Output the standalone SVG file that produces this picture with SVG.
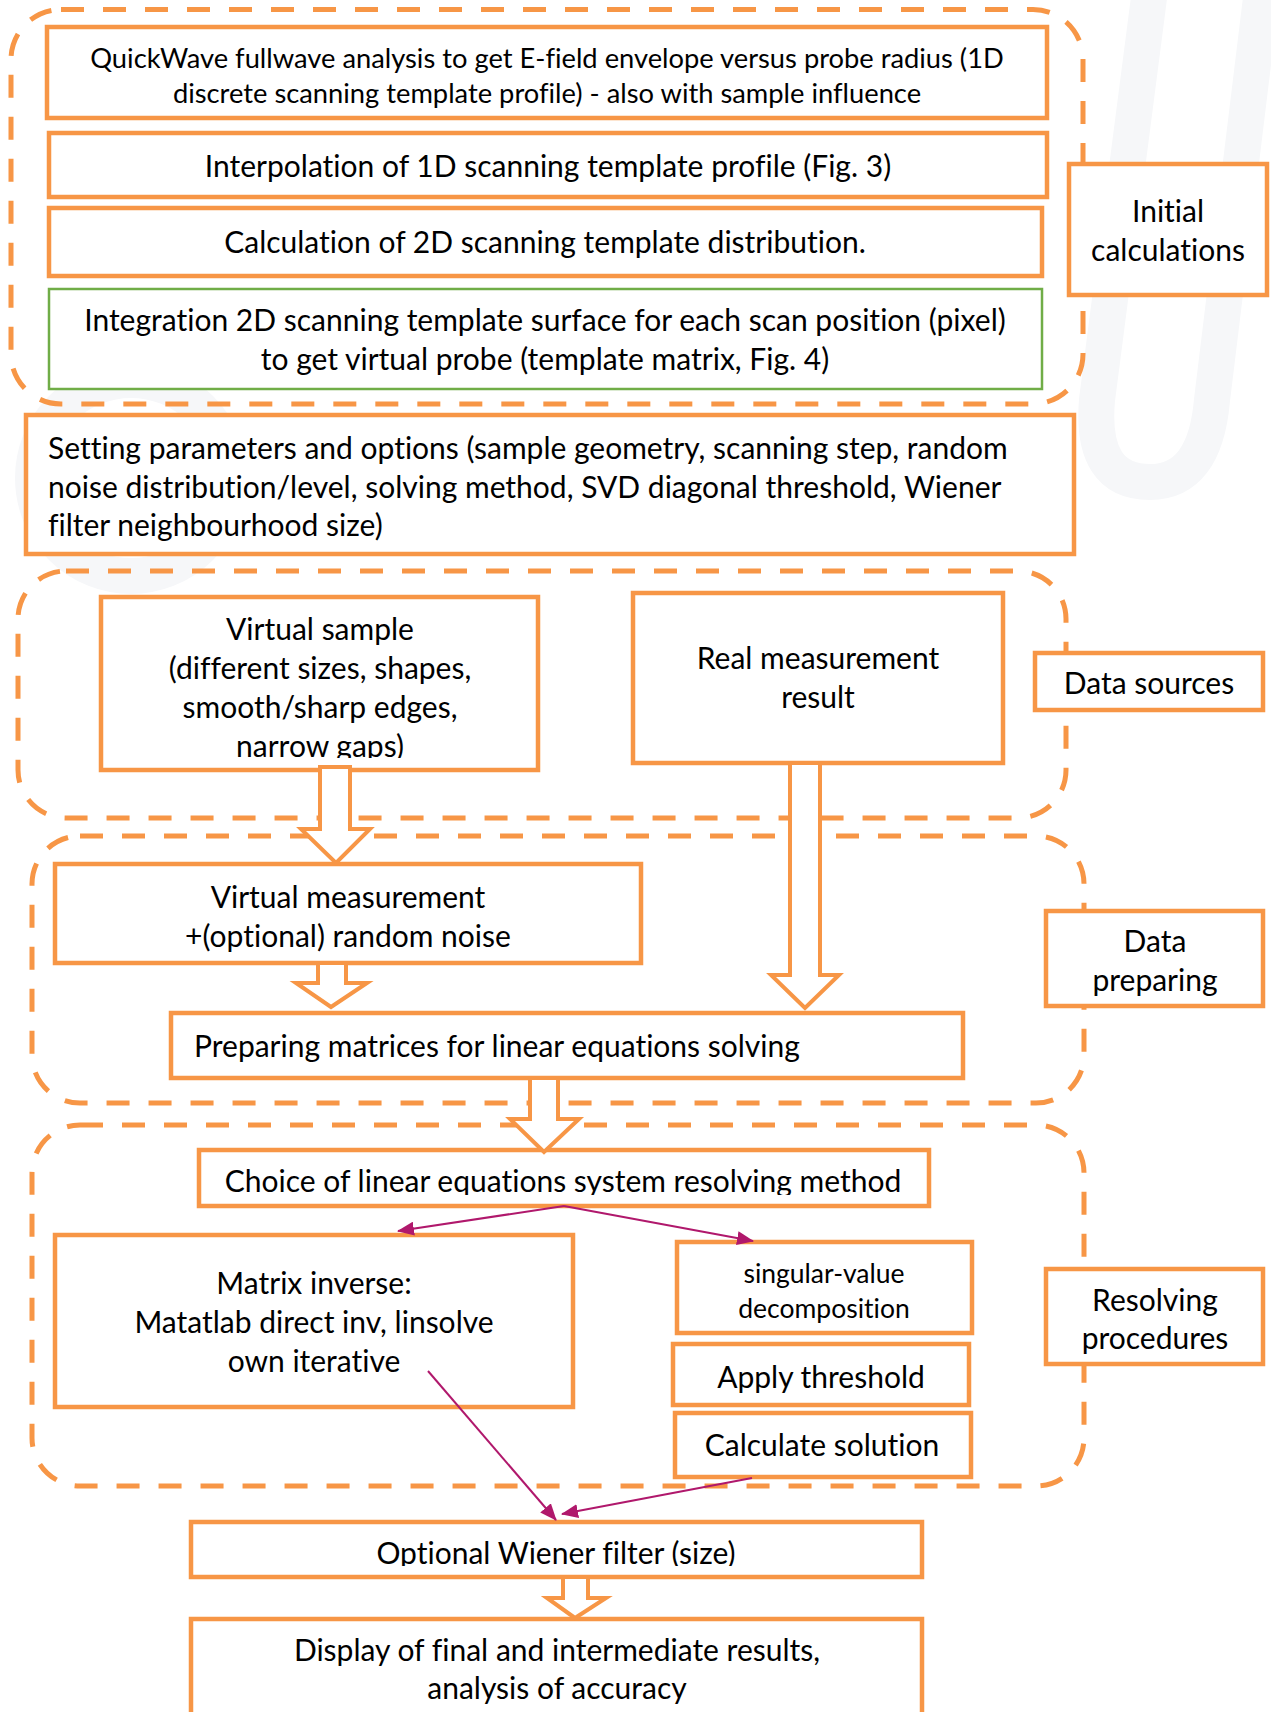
<svg xmlns="http://www.w3.org/2000/svg" width="1271" height="1712" viewBox="0 0 1271 1712">
<style>
.grp{fill:none;stroke:#F79646;stroke-width:5;stroke-dasharray:23 19}
.box{fill:#FFFFFF;stroke:#F79646;stroke-width:4.5}
.gbox{fill:#FFFFFF;stroke:#70AD47;stroke-width:2.5}
.blk{fill:#FFFFFF;stroke:#F79646;stroke-width:4;stroke-linejoin:miter}
.pl{fill:none;stroke:#B0186C;stroke-width:2}
text{font-family:Lato,"Noto Sans","Liberation Sans",sans-serif;font-size:30px;fill:#000000;font-variant-ligatures:none}
.c{text-anchor:middle}
.s{font-size:27.3px}
.xs{font-size:26.5px}
.wm{fill:none;stroke:#F6F7F9;stroke-width:36}
</style>
<defs>
<marker id="ah" markerUnits="userSpaceOnUse" markerWidth="18" markerHeight="14" refX="16" refY="7" orient="auto">
<path d="M0,0 L17,7 L0,14 Z" fill="#B0186C"/>
</marker>
<clipPath id="clipVS"><rect x="100" y="597" width="440" height="161"/></clipPath>
<clipPath id="clipCH"><rect x="199" y="1150" width="730" height="45"/></clipPath>
<clipPath id="clipWF"><rect x="191" y="1522" width="731" height="44"/></clipPath>
</defs>
<rect x="0" y="0" width="1271" height="1712" fill="#FFFFFF"/>
<g id="watermark">
<path class="wm" d="M1150,-10 L1097,400 Q1090,482 1150,482 Q1205,482 1212,400 L1262,-10"/>
<circle class="wm" cx="131" cy="478" r="98"/>
</g>
<g id="groups">
<rect id="grp-initial" class="grp" x="11" y="9.5" width="1072" height="394.5" rx="50"/>
<rect id="grp-sources" class="grp" x="18" y="571" width="1048" height="247" rx="48"/>
<rect id="grp-preparing" class="grp" x="32" y="836" width="1052" height="267" rx="48"/>
<rect id="grp-resolving" class="grp" x="32" y="1125" width="1052" height="361" rx="48"/>
</g>
<g id="n-quickwave"><rect class="box" x="47" y="27" width="1000" height="91"/>
<text class="c s" x="547" y="68">QuickWave fullwave analysis to get E-field envelope versus probe radius (1D</text>
<text class="c s" x="547" y="103">discrete scanning template profile) - also with sample influence</text></g>
<g id="n-interp"><rect class="box" x="49" y="133" width="998" height="64"/>
<text class="c" x="548" y="177">Interpolation of 1D scanning template profile (Fig. 3)</text></g>
<g id="n-calc2d"><rect class="box" x="49" y="208" width="993" height="68"/>
<text class="c" x="545" y="253">Calculation of 2D scanning template distribution.</text></g>
<g id="n-integr"><rect class="gbox" x="49" y="289" width="993" height="100"/>
<text class="c" x="545" y="331">Integration 2D scanning template surface for each scan position (pixel)</text>
<text class="c" x="545" y="370">to get virtual probe (template matrix, Fig. 4)</text></g>
<g id="n-lbl-initial"><rect class="box" x="1069" y="164" width="198" height="131"/>
<text class="c" x="1168" y="222">Initial</text>
<text class="c" x="1168" y="261">calculations</text></g>
<g id="n-setting"><rect class="box" x="26" y="415" width="1048" height="139"/>
<text x="48" y="459">Setting parameters and options (sample geometry, scanning step, random</text>
<text x="48" y="498">noise distribution/level, solving method, SVD diagonal threshold, Wiener</text>
<text x="48" y="536">filter neighbourhood size)</text></g>
<g id="n-virtsample"><rect class="box" x="101" y="597" width="437" height="173"/>
<g clip-path="url(#clipVS)">
<text class="c" x="320" y="640">Virtual sample</text>
<text class="c" x="320" y="679">(different sizes, shapes,</text>
<text class="c" x="320" y="718">smooth/sharp edges,</text>
<text class="c" x="320" y="757">narrow gaps)</text></g></g>
<g id="n-realmeas"><rect class="box" x="633" y="593" width="370" height="170"/>
<text class="c" x="818" y="669">Real measurement</text>
<text class="c" x="818" y="708">result</text></g>
<g id="n-lbl-sources"><rect class="box" x="1035" y="653" width="228" height="57"/>
<text class="c" x="1149" y="694">Data sources</text></g>
<g id="n-virtmeas"><rect class="box" x="55" y="864" width="586" height="99"/>
<text class="c" x="348" y="908">Virtual measurement</text>
<text class="c" x="348" y="947">+(optional) random noise</text></g>
<g id="n-prepmat"><rect class="box" x="171" y="1013" width="792" height="65"/>
<text x="194" y="1057">Preparing matrices for linear equations solving</text></g>
<g id="n-lbl-preparing"><rect class="box" x="1046" y="911" width="217" height="95"/>
<text class="c" x="1155" y="952">Data</text>
<text class="c" x="1155" y="991">preparing</text></g>
<g id="n-choice"><rect class="box" x="199" y="1150" width="730" height="56"/>
<g clip-path="url(#clipCH)"><text class="c" x="563" y="1192">Choice of linear equations system resolving method</text></g></g>
<g id="n-matinv"><rect class="box" x="55" y="1235" width="518" height="172"/>
<text class="c" x="314" y="1294">Matrix inverse:</text>
<text class="c" x="314" y="1333">Matatlab direct inv, linsolve</text>
<text class="c" x="314" y="1372">own iterative</text></g>
<g id="n-svd"><rect class="box" x="677" y="1242" width="295" height="91"/>
<text class="c xs" x="824" y="1283">singular-value</text>
<text class="c xs" x="824" y="1318">decomposition</text></g>
<g id="n-apply"><rect class="box" x="673" y="1344" width="296" height="61"/>
<text class="c" x="821" y="1388">Apply threshold</text></g>
<g id="n-calcsol"><rect class="box" x="675" y="1413" width="296" height="64"/>
<text class="c" x="822" y="1456">Calculate solution</text></g>
<g id="n-lbl-resolving"><rect class="box" x="1046" y="1269" width="217" height="95"/>
<text class="c" x="1155" y="1311">Resolving</text>
<text class="c" x="1155" y="1349">procedures</text></g>
<g id="n-wiener"><rect class="box" x="191" y="1522" width="731" height="55"/>
<g clip-path="url(#clipWF)"><text class="c" x="556" y="1564">Optional Wiener filter (size)</text></g></g>
<g id="n-display"><rect class="box" x="191" y="1619" width="731" height="120"/>
<text class="c" x="557" y="1661">Display of final and intermediate results,</text>
<text class="c" x="557" y="1699">analysis of accuracy</text></g>
<g id="connectors">
<path class="blk" d="M320,767 L320,829 L301,829 L336,863 L370,829 L350,829 L350,767 Z"/>
<path class="blk" d="M318,963 L318,983 L296,983 L331,1007 L367,983 L346,983 L346,963 Z"/>
<path class="blk" d="M790,763 L790,975 L771,975 L805,1008 L839,975 L820,975 L820,763 Z"/>
<path class="blk" d="M530,1078 L530,1119 L510,1119 L544,1152 L579,1119 L558,1119 L558,1078 Z"/>
<path class="blk" d="M563,1577 L563,1598 L547,1598 L575,1618 L606,1598 L588,1598 L588,1577 Z"/>
<line class="pl" x1="564" y1="1206" x2="398" y2="1231" marker-end="url(#ah)"/>
<line class="pl" x1="564" y1="1206" x2="753" y2="1241" marker-end="url(#ah)"/>
<line class="pl" x1="428" y1="1371" x2="556" y2="1520" marker-end="url(#ah)"/>
<line class="pl" x1="752" y1="1478" x2="562" y2="1514" marker-end="url(#ah)"/>
</g>
</svg>
